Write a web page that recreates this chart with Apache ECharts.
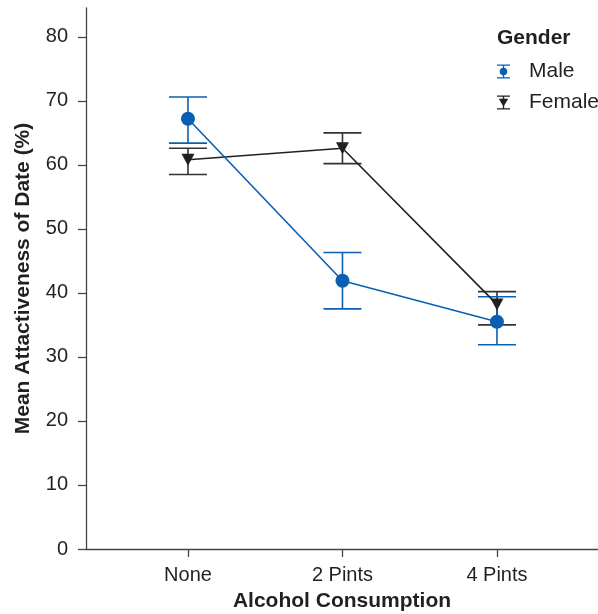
<!DOCTYPE html>
<html>
<head>
<meta charset="utf-8">
<script src="https://cdn.jsdelivr.net/npm/echarts@6/dist/echarts.min.js"></script>
<style>
html,body{margin:0;padding:0;background:#fff;}
#c{width:598px;height:614px;}
</style>
</head>
<body>
<div id="c"></div>
<script>
// ---- data ----
const categories = ['None', '2 Pints', '4 Pints'];
const yTicks = [0, 10, 20, 30, 40, 50, 60, 70, 80];
const maleMean  = [67.2, 41.9, 35.5];
const maleLow   = [63.4, 37.5, 31.9];
const maleHigh  = [70.6, 46.3, 39.4];
const femaleMean = [60.8, 62.6, 38.2];
const femaleLow  = [58.5, 60.2, 35.0];
const femaleHigh = [62.6, 65.0, 40.2];

const BLUE = '#0b5fb3';
const BLACK = '#231f20';
const FONT = '"Liberation Sans", Arial, sans-serif';

const xPos = categories.map((c, i) => i + 1);
const pts = (arr) => arr.map((v, i) => [xPos[i], v]);
const bars = (lo, hi) => lo.map((v, i) => [xPos[i], v, hi[i]]);

function errRender(color) {
  return function (params, api) {
    const x = api.value(0);
    const pLo = api.coord([x, api.value(1)]);
    const pHi = api.coord([x, api.value(2)]);
    const hw = 19;
    const st = { stroke: color, lineWidth: 1.6 };
    return {
      type: 'group',
      children: [
        { type: 'line', shape: { x1: pLo[0], y1: pLo[1], x2: pHi[0], y2: pHi[1] }, style: st },
        { type: 'line', shape: { x1: pHi[0] - hw, y1: pHi[1], x2: pHi[0] + hw, y2: pHi[1] }, style: st },
        { type: 'line', shape: { x1: pLo[0] - hw, y1: pLo[1], x2: pLo[0] + hw, y2: pLo[1] }, style: st }
      ]
    };
  };
}

const maleIcon = 'path://M0,0 H13 V1.3 H7.2 V12.7 H13 V14 H0 V12.7 H5.8 V1.3 H0 Z M6.5,3.2 A3.8,3.8 0 1,1 6.49,3.2 Z';
const femaleIcon = 'path://M0,0 H13 V1.3 H7.2 V12.7 H13 V14 H0 V12.7 H5.8 V1.3 H0 Z M1.8,3.3 L11.2,3.3 L6.5,11.2 Z';

const chart = echarts.init(document.getElementById('c'));
chart.setOption({
  animation: false,
  backgroundColor: '#fff',
  textStyle: { fontFamily: FONT },
  title: {
    text: 'Gender', left: 497, top: 28, padding: 0,
    textStyle: { fontFamily: FONT, fontSize: 21, fontWeight: 'bold', color: BLACK }
  },
  legend: {
    orient: 'vertical', left: 497, top: 61, padding: 0,
    itemWidth: 13, itemHeight: 14, itemGap: 10,
    textStyle: { fontFamily: FONT, fontSize: 21, color: BLACK, padding: [0, 0, 0, 14] },
    data: [
      { name: 'Male', icon: maleIcon, itemStyle: { color: BLUE } },
      { name: 'Female', icon: femaleIcon, itemStyle: { color: BLACK } }
    ]
  },
  grid: { left: 86, right: 0, top: 8, bottom: 65, containLabel: false, outerBoundsMode: 'none' },
  xAxis: {
    type: 'value', min: 0.34, max: 3.654,
    name: 'Alcohol Consumption', nameLocation: 'middle', nameGap: 42,
    nameTextStyle: { fontFamily: FONT, fontSize: 21, fontWeight: 'bold', color: BLACK },
    axisLine: { show: true, lineStyle: { color: '#444', width: 1.3 } },
    axisTick: { show: true, length: 8, customValues: xPos, lineStyle: { color: '#444', width: 1.3 } },
    axisLabel: {
      customValues: xPos, margin: 16,
      fontFamily: FONT, fontSize: 20, color: BLACK,
      formatter: (v) => categories[Math.round(v) - 1] || ''
    },
    splitLine: { show: false }
  },
  yAxis: {
    type: 'value', min: 0, max: 84.5,
    name: 'Mean Attactiveness of Date (%)', nameLocation: 'middle', nameGap: 52, nameRotate: 90,
    nameTextStyle: { fontFamily: FONT, fontSize: 21, fontWeight: 'bold', color: BLACK },
    axisLine: { show: true, lineStyle: { color: '#444', width: 1.3 } },
    axisTick: { show: true, length: 8, customValues: yTicks, lineStyle: { color: '#444', width: 1.3 } },
    axisLabel: { customValues: yTicks, margin: 18, fontFamily: FONT, fontSize: 20, color: BLACK },
    splitLine: { show: false }
  },
  series: [
    {
      name: 'Female err', type: 'custom', renderItem: errRender('#333'),
      data: bars(femaleLow, femaleHigh), z: 2, silent: true
    },
    {
      name: 'Male err', type: 'custom', renderItem: errRender(BLUE),
      data: bars(maleLow, maleHigh), z: 2, silent: true
    },
    {
      name: 'Female', type: 'line', data: pts(femaleMean),
      symbol: 'triangle', symbolRotate: 180, symbolSize: [13, 12],
      lineStyle: { color: BLACK, width: 1.6 },
      itemStyle: { color: BLACK }, z: 3
    },
    {
      name: 'Male', type: 'line', data: pts(maleMean),
      symbol: 'circle', symbolSize: 14,
      lineStyle: { color: BLUE, width: 1.6 },
      itemStyle: { color: BLUE }, z: 4
    }
  ]
});
</script>
</body>
</html>
